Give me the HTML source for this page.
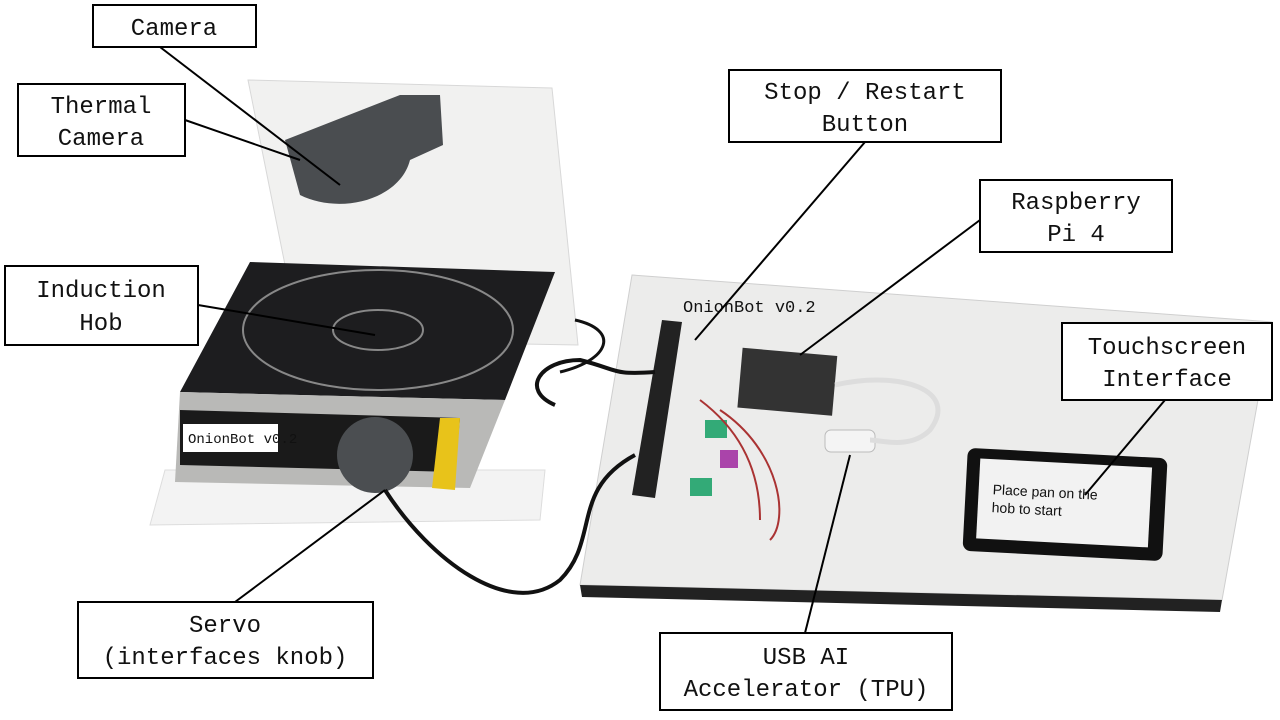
<!DOCTYPE html>
<html><head><meta charset="utf-8">
<style>
html,body{margin:0;padding:0;background:#fff;}
svg{display:block;}
text{font-family:"Liberation Mono",monospace;font-size:24px;fill:#111;}
</style></head>
<body>
<svg width="1280" height="720" viewBox="0 0 1280 720">
  <!-- right board -->
  <polygon points="632,275 1272,322 1222,600 580,585" fill="#ececeb" stroke="#cfcfcf"/>
  <polygon points="580,585 1222,600 1220,612 582,597" fill="#222"/>
  <text x="683" y="312" style="font-size:17px">OnionBot v0.2</text>
  <!-- power strip -->
  <polygon points="662,320 682,322 655,498 632,495" fill="#222"/>
  <!-- raspberry pi -->
  <rect x="740" y="352" width="95" height="60" fill="#333" transform="rotate(5 790 380)"/>
  <rect x="825" y="430" width="50" height="22" rx="6" fill="#f4f4f4" stroke="#bbb"/>
  <path d="M835,385 C900,370 960,390 930,430 C910,450 880,440 870,440" stroke="#ddd" stroke-width="5" fill="none"/>
  <rect x="705" y="420" width="22" height="18" fill="#3a7"/>
  <rect x="690" y="478" width="22" height="18" fill="#3a7"/>
  <rect x="720" y="450" width="18" height="18" fill="#a4a"/>
  <path d="M700,400 C740,430 760,470 760,520 M720,410 C780,450 790,520 770,540" stroke="#a33" stroke-width="2" fill="none"/>
  <!-- touchscreen -->
  <rect x="965" y="453" width="200" height="103" rx="8" fill="#111" transform="rotate(3 1065 505)"/>
  <rect x="978" y="463" width="172" height="80" fill="#f2f2f2" transform="rotate(3 1065 505)"/>
  <text x="992" y="498" style="font-family:'Liberation Sans',sans-serif;font-size:14px" transform="rotate(3 1065 505)">Place pan on the</text>
  <text x="992" y="516" style="font-family:'Liberation Sans',sans-serif;font-size:14px" transform="rotate(3 1065 505)">hob to start</text>
  <!-- left white back board -->
  <polygon points="248,80 552,88 578,345 300,340" fill="#f1f1f0" stroke="#d8d8d8"/>
  <!-- camera housing -->
  <path d="M285,140 L400,95 L440,95 L443,145 L410,160 C400,200 340,215 300,195 Z" fill="#4a4d50"/>
  <!-- base plate -->
  <polygon points="165,470 545,470 540,520 150,525" fill="#f3f3f3" stroke="#ddd"/>
  <!-- hob top -->
  <polygon points="250,262 555,272 505,400 180,392" fill="#1d1d1f"/>
  <ellipse cx="378" cy="330" rx="135" ry="60" fill="none" stroke="#888" stroke-width="2"/>
  <ellipse cx="378" cy="330" rx="45" ry="20" fill="none" stroke="#888" stroke-width="2"/>
  <!-- hob front -->
  <polygon points="180,392 505,400 470,488 175,482" fill="#b9b9b7"/>
  <polygon points="180,410 460,418 455,472 180,465" fill="#1a1a1a"/>
  <polygon points="440,418 460,418 455,490 432,488" fill="#e8c31a"/>
  <rect x="183" y="424" width="95" height="28" fill="#fff"/>
  <text x="188" y="443" style="font-size:14px">OnionBot v0.2</text>
  <!-- knob -->
  <ellipse cx="375" cy="455" rx="38" ry="38" fill="#4b4e51"/>
  <!-- cables -->
  <path d="M385,490 C430,560 510,620 560,580 C600,540 570,490 635,455" stroke="#111" stroke-width="4" fill="none"/>
  <path d="M555,405 C520,390 540,360 580,360 C620,370 610,375 655,372" stroke="#111" stroke-width="4" fill="none"/>
  <path d="M575,320 C620,330 610,360 560,372" stroke="#111" stroke-width="3" fill="none"/>

  <!-- leader lines -->
  <g stroke="#000" stroke-width="2">
    <line x1="160" y1="47" x2="340" y2="185"/>
    <line x1="185" y1="120" x2="300" y2="160"/>
    <line x1="865" y1="142" x2="695" y2="340"/>
    <line x1="980" y1="220" x2="800" y2="355"/>
    <line x1="198" y1="305" x2="375" y2="335"/>
    <line x1="1165" y1="400" x2="1085" y2="495"/>
    <line x1="235" y1="602" x2="385" y2="490"/>
    <line x1="805" y1="633" x2="850" y2="455"/>
  </g>

  <!-- label boxes -->
  <g fill="#fff" stroke="#000" stroke-width="2">
    <rect x="93" y="5" width="163" height="42"/>
    <rect x="18" y="84" width="167" height="72"/>
    <rect x="729" y="70" width="272" height="72"/>
    <rect x="980" y="180" width="192" height="72"/>
    <rect x="5" y="266" width="193" height="79"/>
    <rect x="1062" y="323" width="210" height="77"/>
    <rect x="78" y="602" width="295" height="76"/>
    <rect x="660" y="633" width="292" height="77"/>
  </g>
  <g text-anchor="middle">
    <text x="174" y="35">Camera</text>
    <text x="101" y="113">Thermal</text>
    <text x="101" y="145">Camera</text>
    <text x="865" y="99">Stop / Restart</text>
    <text x="865" y="131">Button</text>
    <text x="1076" y="209">Raspberry</text>
    <text x="1076" y="241">Pi 4</text>
    <text x="101" y="297">Induction</text>
    <text x="101" y="330">Hob</text>
    <text x="1167" y="354">Touchscreen</text>
    <text x="1167" y="386">Interface</text>
    <text x="225" y="632">Servo</text>
    <text x="225" y="664">(interfaces knob)</text>
    <text x="806" y="664">USB AI</text>
    <text x="806" y="696">Accelerator (TPU)</text>
  </g>
</svg>
</body></html>
